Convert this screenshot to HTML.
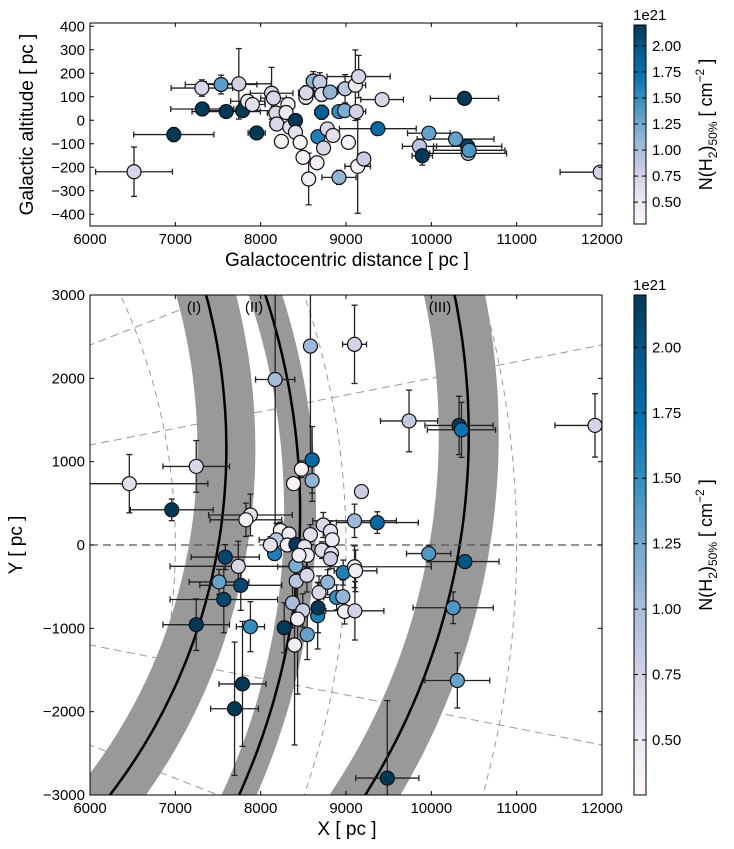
<!DOCTYPE html>
<html><head><meta charset="utf-8">
<style>
html,body{margin:0;background:#fff;overflow:hidden;width:734px;height:849px;}
svg{display:block;font-family:"Liberation Sans",sans-serif;}
</style></head>
<body>
<svg id="fig" width="734" height="849" viewBox="0 0 734 849" xmlns="http://www.w3.org/2000/svg">
<defs>
<linearGradient id="cmap" x1="0" y1="1" x2="0" y2="0">
<stop offset="0" stop-color="#fff7fb"/><stop offset="0.125" stop-color="#ece7f2"/><stop offset="0.25" stop-color="#d0d1e6"/><stop offset="0.375" stop-color="#a6bddb"/><stop offset="0.5" stop-color="#74a9cf"/><stop offset="0.625" stop-color="#3690c0"/><stop offset="0.75" stop-color="#0570b0"/><stop offset="0.875" stop-color="#045a8d"/><stop offset="1" stop-color="#023858"/>
</linearGradient>
<clipPath id="clipTop"><rect x="90" y="23" width="512" height="203"/></clipPath>
<clipPath id="clipBot"><rect x="90" y="295" width="512" height="500"/></clipPath>
</defs>
<g id="top"></g>
<g id="bot"></g>
<g id="cbars"></g>
</svg>
<script>
// ---- Top panel data: galactocentric distance R, altitude z, errors, N(H2) (1e21) ----
const topR =   [6516,6982,7311,7536,7744,7316,7596,7788,7848,7903,7953,8128,8150,8178,8189,8243,8320,8298,8342,8408,8408,8529,8534,8463,8496,8562,8616,8693,8715,8715,8671,8737,8660,8781,8847,8814,8918,8984,8989,9028,9110,9148,9121,9137,9209,9423,8918,9373,9971,10284,9861,9894,10426,10432,10443,10388,11979];
const topZ =   [-219,-61,137,152,155,48,37,41,81,67,-54,115,94,31,-16,-90,67,33,-30,-1,-51,98,117,-94,-158,-250,167,162,110,34,-70,-118,-181,-37,-65,120,37,41,134,-94,149,186,37,-196,-165,88,-243,-36,-55,-80,-111,-151,-111,-141,-128,93,-221];
const topXerr =[450,470,360,420,380,370,400,420,200,150,100,250,150,100,80,60,80,70,60,60,50,60,90,70,50,60,80,60,90,80,60,70,50,60,40,90,80,70,90,40,120,370,110,150,70,250,200,450,250,450,200,120,400,450,420,400,470];
const topZerr =[105,30,35,40,150,20,20,20,20,20,15,110,40,20,20,15,20,20,15,20,20,30,30,15,20,110,40,40,30,30,20,20,25,20,20,25,20,25,60,15,150,90,20,200,20,20,30,15,20,20,30,40,20,20,20,15,15];
const topN =   [0.7,2.2,0.7,1.35,0.75,2.2,2.2,2.2,0.5,0.6,2.2,0.7,0.7,0.7,0.7,0.4,0.4,0.5,0.6,2.2,0.6,0.45,0.7,0.4,0.4,0.45,1.15,0.85,0.6,1.9,1.6,0.7,0.45,0.7,0.6,1.1,1.5,1.2,0.9,0.4,0.5,0.7,0.75,0.4,0.8,0.7,1.1,1.8,1.3,1.3,0.9,2.2,2.1,0.9,1.4,2.2,0.75];

// ---- Bottom panel data: X, Y, errors, N(H2) ----
const botX =   [6461,7245,6958,7880,7827,8170,8583,9100,9739,10325,10353,11918,8603,8478,8603,8385,9181,9100,9367,7585,7738,7512,7767,7568,7245,7880,8276,7787,7694,8397,8546,8668,8672,8373,8494,8433,8684,8785,8967,9100,9112,8890,8963,8983,9104,8417,8542,8413,9969,10394,10256,10305,9484,8733,8818,8838,8583,8231,8332,8183,8163,8312,8413,8514,8717,8830,8818,8546,8449,8114];
const botY =   [736,943,422,360,302,1986,2387,2408,1489,1435,1382,1435,1022,910,773,736,641,290,269,-145,-256,-443,-484,-654,-956,-980,-993,-1667,-1965,-1200,-1075,-848,-753,-695,-786,-889,-571,-447,-331,-261,-310,-629,-620,-798,-790,-434,-364,-248,-103,-199,-753,-1626,-2797,240,165,62,124,174,132,62,-103,0,8,-21,-62,-103,-165,-124,-124,0];
const botXerr =[920,390,485,490,420,230,60,140,335,400,400,470,60,50,60,60,60,490,480,400,800,350,480,630,390,165,60,275,280,50,60,60,60,60,60,60,60,60,60,900,250,150,60,80,340,60,60,60,260,400,470,380,370,60,60,50,60,60,60,200,60,60,60,60,60,60,60,60,60,60];
const botYerr =[350,310,130,250,200,1900,1400,470,370,350,330,380,400,100,250,80,60,200,130,150,300,150,300,400,310,300,300,750,800,1200,300,400,300,300,200,900,200,150,150,250,250,150,200,150,350,250,200,200,100,60,190,330,930,150,120,100,120,100,80,200,80,80,80,80,100,120,120,150,120,100];
const botN =   [0.6,0.7,2.2,0.6,0.4,1.0,1.05,0.75,0.85,2.2,1.7,0.75,1.8,0.4,1.1,0.4,0.8,1.05,1.8,2.1,0.7,1.3,2.1,2.1,2.2,1.5,2.2,2.2,2.2,0.45,1.3,1.6,2.2,1.0,0.8,0.45,0.7,1.1,1.6,0.4,0.45,1.5,1.1,0.45,0.75,0.9,0.7,1.2,1.4,2.0,1.4,1.3,2.2,0.7,0.6,0.5,0.6,0.4,0.5,0.9,1.6,0.4,2.2,0.6,0.65,0.6,0.8,0.45,0.45,0.6];

// spiral arm parameters: r0, linear, quadratic (log-spiral fit)
const armR0 = [7504, 8453, 10333];
const armA = [0.164, 0.047, 0.160];
const armB = [-0.039, 0.0, -0.130];
const armLabels = ["(I)", "(II)", "(III)"];

const xTicks = [6000,7000,8000,9000,10000,11000,12000];
const topYTicks = [-400,-300,-200,-100,0,100,200,300,400];
const botYTicks = [-3000,-2000,-1000,0,1000,2000,3000];
const cbTicks = [0.5,0.75,1.0,1.25,1.5,1.75,2.0];

const NS = "http://www.w3.org/2000/svg";
function mk(tag, attrs, parent){const e=document.createElementNS(NS,tag);for(const k in attrs)e.setAttribute(k,attrs[k]);if(parent)parent.appendChild(e);return e;}
const stops=["#fff7fb","#ece7f2","#d0d1e6","#a6bddb","#74a9cf","#3690c0","#0570b0","#045a8d","#023858"];
function hex(c){return [parseInt(c.substr(1,2),16),parseInt(c.substr(3,2),16),parseInt(c.substr(5,2),16)];}
function cmap(v){let t=(v-0.29)/(2.2-0.29);t=Math.max(0,Math.min(1,t))*8;const i=Math.min(7,Math.floor(t)),f=t-i;const a=hex(stops[i]),b=hex(stops[i+1]);return "rgb("+a.map((x,k)=>Math.round(x+(b[k]-x)*f)).join(",")+")";}

const xs = v => 90 + (v-6000)/6000*512;
const ysT = v => 226 - (v+450)*0.235;
const ysB = v => 295 + (3000-v)/6000*500;

function axes(g, y0, y1, yTicks, ys, xlabel, ylabel, ylabX){
  const fr=mk("rect",{x:90,y:y0,width:512,height:y1-y0,fill:"none",stroke:"#000","stroke-width":1},g);
  
  
  xTicks.forEach(t=>{const x=xs(t);
    mk("line",{x1:x,x2:x,y1:y1,y2:y1-4,stroke:"#000"},g);mk("line",{x1:x,x2:x,y1:y0,y2:y0+4,stroke:"#000"},g);
    const tx=mk("text",{x:x,y:y1+18,"font-size":15,"text-anchor":"middle"},g);tx.textContent=t;
    
    
  });
  yTicks.forEach(t=>{const y=ys(t);
    mk("line",{x1:90,x2:94,y1:y,y2:y,stroke:"#000"},g);mk("line",{x1:602,x2:598,y1:y,y2:y,stroke:"#000"},g);
    const tx=mk("text",{x:85,y:y+5,"font-size":15,"text-anchor":"end"},g);tx.textContent=(t<0?"\u2212"+(-t):t);
    
    
  });
  const xl=mk("text",{x:347,y:y1+40,"font-size":19,"text-anchor":"middle"},g);xl.textContent=xlabel;
  
  
  const yc=(y0+y1)/2;
  const yl=mk("text",{x:ylabX,y:yc,"font-size":19,"text-anchor":"middle",transform:"rotate(-90 "+ylabX+" "+yc+")"},g);yl.textContent=ylabel;
  
  
}

function points(g, X, Y, XE, YE, N, ys, clip){
  const pg=mk("g",{"clip-path":"url(#"+clip+")"},g);
  for(let i=0;i<X.length;i++){
    const x=xs(X[i]), y=ys(Y[i]);
    const x1=xs(X[i]-XE[i]), x2=xs(X[i]+XE[i]), y1=ys(Y[i]-YE[i]), y2=ys(Y[i]+YE[i]);
    const eb=mk("g",{stroke:"#222","stroke-width":1.3},pg);
    
    
    mk("line",{x1:x1,x2:x2,y1:y,y2:y},eb);mk("line",{x1:x,x2:x,y1:y1,y2:y2},eb);
    mk("line",{x1:x1,x2:x1,y1:y-3,y2:y+3},eb);mk("line",{x1:x2,x2:x2,y1:y-3,y2:y+3},eb);
    mk("line",{x1:x-3,x2:x+3,y1:y1,y2:y1},eb);mk("line",{x1:x-3,x2:x+3,y1:y2,y2:y2},eb);
  }
  for(let i=0;i<X.length;i++){
    const c=mk("circle",{cx:xs(X[i]),cy:ys(Y[i]),r:7,fill:cmap(N[i]),stroke:"#111","stroke-width":1.2},pg);
    
    
  }
}

// Top panel
const gt=document.getElementById("top");
points(gt, topR, topZ, topXerr, topZerr, topN, ysT, "clipTop");
axes(gt, 23, 226, topYTicks, ysT, "Galactocentric distance [ pc ]", "Galactic altitude [ pc ]", 33);

// Bottom panel
const gb=document.getElementById("bot");
const bg=mk("g",{"clip-path":"url(#clipBot)"},gb);
[7000,9000,11000].forEach(r=>{const c=mk("circle",{cx:xs(0),cy:ysB(0),r:r/6000*512,fill:"none",stroke:"#999","stroke-width":1,"stroke-dasharray":"6,5"},bg);
  
  });
[0.2,0.4,-0.2,-0.4].forEach(s=>{const l=mk("line",{x1:xs(0),y1:ysB(0),x2:xs(14000),y2:ysB(14000*s),stroke:"#999","stroke-width":1,"stroke-dasharray":"8,5"},bg);
  
  });
const bandW=[58,32,60];
function armPts(k){const p=[];for(let th=-0.6;th<=0.6;th+=0.01){const r=armR0[k]*Math.exp(armA[k]*th+armB[k]*th*th);p.push(xs(r*Math.cos(th)).toFixed(1)+","+ysB(r*Math.sin(th)).toFixed(1));}return p.join(" ");}
for(let k=0;k<3;k++){const b=mk("polyline",{points:armPts(k),fill:"none",stroke:"#999","stroke-width":bandW[k]},bg);
  
  }
for(let k=0;k<3;k++){const b=mk("polyline",{points:armPts(k),fill:"none",stroke:"#000","stroke-width":2.5},bg);
  
  }
const zl=mk("line",{x1:90,x2:602,y1:ysB(0),y2:ysB(0),stroke:"#555","stroke-width":1.2,"stroke-dasharray":"8,5"},bg);


const labX=[194,254,440];
armLabels.forEach((t,k)=>{const tx=mk("text",{x:labX[k],y:312,"font-size":15,"text-anchor":"middle"},gb);tx.textContent=t;
  
  });
points(gb, botX, botY, botXerr, botYerr, botN, ysB, "clipBot");
axes(gb, 295, 795, botYTicks, ysB, "X [ pc ]", "Y [ pc ]", 22);

// Colorbars
const gc=document.getElementById("cbars");
function cbar(y0,y1){
  const g=mk("g",{},gc);
  
  
  mk("rect",{x:634,y:y0,width:12,height:y1-y0,fill:"url(#cmap)",stroke:"#000","stroke-width":1},g);
  const vs=v=>y1-(v-0.29)/(2.2-0.29)*(y1-y0);
  cbTicks.forEach(t=>{const y=vs(t);mk("line",{x1:634,x2:638,y1:y,y2:y,stroke:"#000"},g);mk("line",{x1:646,x2:642,y1:y,y2:y,stroke:"#000"},g);
    const tx=mk("text",{x:652,y:y+5,"font-size":15},g);tx.textContent=t.toFixed(2);
    
    });
  const e=mk("text",{x:633,y:y0-5,"font-size":15},g);e.textContent="1e21";
  
  
  const yc=(y0+y1)/2;
  const l=mk("text",{x:712,y:yc,"font-size":18,"text-anchor":"middle",transform:"rotate(-90 712 "+yc+")"},g);
  l.innerHTML='N(H<tspan font-size="12" dy="5">2</tspan><tspan dy="-5">)</tspan><tspan font-size="12" dy="5">50%</tspan><tspan dy="-5">  [ cm</tspan><tspan font-size="12" dy="-8">\u22122</tspan><tspan dy="8"> ]</tspan>';
  
  
}
cbar(25,224);
cbar(295,795);
</script>
</body></html>
